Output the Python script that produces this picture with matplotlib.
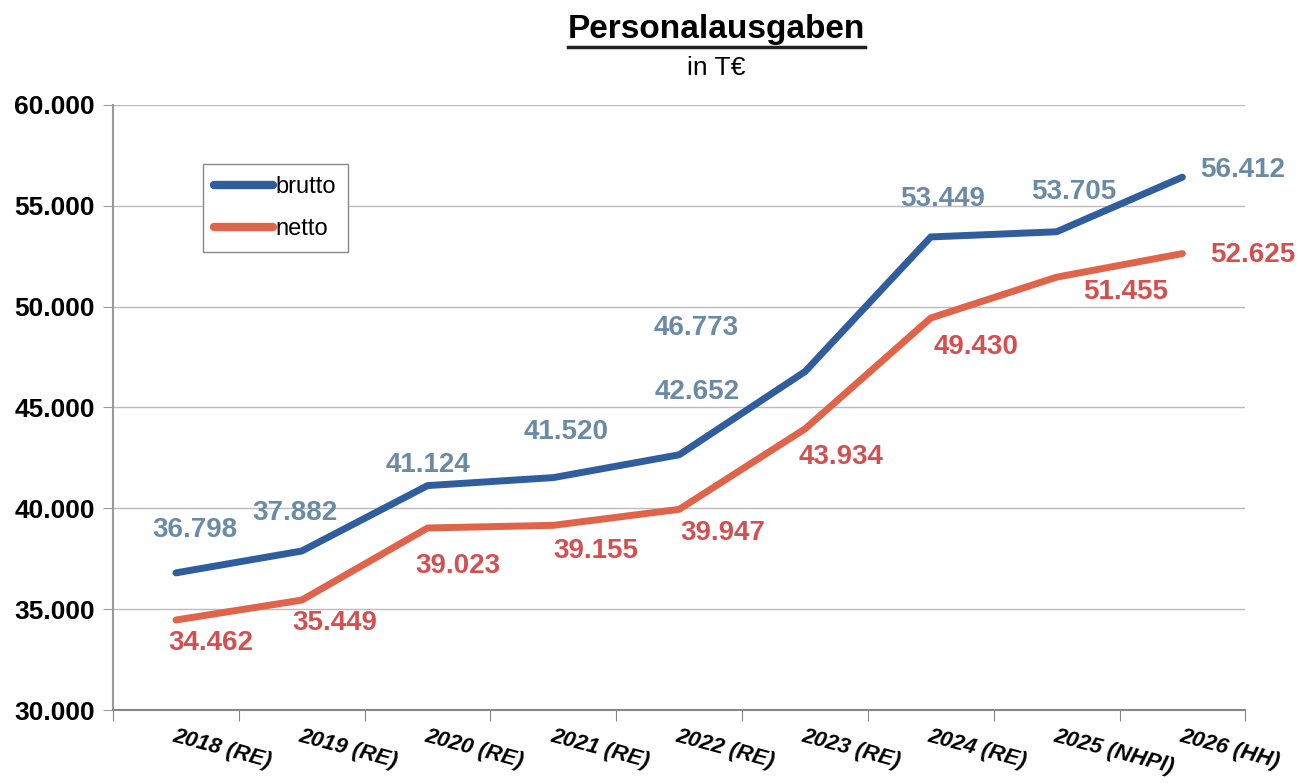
import numpy as np
import matplotlib.pyplot as plt
from matplotlib.lines import Line2D
from matplotlib.ticker import FuncFormatter

plt.rcParams['font.family'] = ['Liberation Sans', 'DejaVu Sans']

years = ['2018 (RE)', '2019 (RE)', '2020 (RE)', '2021 (RE)', '2022 (RE)',
         '2023 (RE)', '2024 (RE)', '2025 (NHPl)', '2026 (HH)']
brutto = [36798, 37882, 41124, 41520, 42652, 46773, 53449, 53705, 56412]
netto = [34462, 35449, 39023, 39155, 39947, 43934, 49430, 51455, 52625]

# label offsets in pixels (dx, dy) relative to the point
off_brutto = [(19, 43), (-7, 38), (0, 21), (13, 46), (18, 63), (-109, 44), (12, 38), (17, 40), (60, 7)]
off_netto = [(35, -23), (33, -23), (30, -38), (42, -26), (44, -24), (36, -28), (45, -29), (69, -15), (70, -1)]

c_blue = '#2f5d9e'
c_red = '#e0644a'
c_blue_lbl = '#6a8aa6'
c_red_lbl = '#d45050'

fig = plt.figure(figsize=(13.15, 7.83), dpi=100)
ax = fig.add_axes([0.086, 0.0932, 0.861, 0.773])

x = np.arange(len(years))
ax.plot(x, brutto, color=c_blue, lw=5, solid_capstyle='round', label='brutto', zorder=3)
ax.plot(x, netto, color=c_red, lw=5, solid_capstyle='round', label='netto', zorder=3)

fmt = lambda v: f'{v:,.0f}'.replace(',', '.')
for i in range(len(years)):
    dx, dy = off_brutto[i]
    ax.annotate(fmt(brutto[i]), (x[i], brutto[i]), xytext=(dx * 0.72, dy * 0.72),
                textcoords='offset points', ha='center', va='center',
                fontsize=20, fontweight='bold', color=c_blue_lbl)
    dx, dy = off_netto[i]
    ax.annotate(fmt(netto[i]), (x[i], netto[i]), xytext=(dx * 0.72, dy * 0.72),
                textcoords='offset points', ha='center', va='center',
                fontsize=20, fontweight='bold', color=c_red_lbl)

ax.set_xlim(-0.5, len(years) - 0.5)
ax.set_ylim(30000, 60000)
ax.set_yticks(np.arange(30000, 60001, 5000))
ax.yaxis.set_major_formatter(FuncFormatter(lambda v, p: fmt(v)))
ax.set_xticks(np.arange(-0.5, len(years), 1.0))
ax.set_xticklabels([])
ax.set_xticks(x, minor=True)
ax.set_xticklabels(years, minor=True, rotation=-15, ha='left', va='top',
                   fontsize=16, fontweight='bold', fontstyle='italic',
                   rotation_mode='anchor')
ax.tick_params(axis='x', which='minor', length=0, pad=11)
ax.tick_params(axis='x', which='major', length=8, color='#888888', direction='out')
ax.tick_params(axis='y', length=7, color='#999999', labelsize=19, pad=6)
for lbl in ax.get_yticklabels():
    lbl.set_fontweight('bold')

ax.grid(axis='y', color='#bbbbbb', lw=1)
ax.set_axisbelow(True)
for s in ['top', 'right']:
    ax.spines[s].set_visible(False)
ax.spines['left'].set_color('#999999')
ax.spines['bottom'].set_color('#888888')
ax.spines['left'].set_linewidth(1.5)
ax.spines['bottom'].set_linewidth(1.5)

leg = ax.legend(loc='upper left', bbox_to_anchor=(0.079, 0.902), fontsize=17,
                handlelength=2.5, handletextpad=0.1, fancybox=False,
                edgecolor='#888888', framealpha=1, borderpad=0.5, labelspacing=0.85,
                borderaxespad=0)
for h in leg.get_lines():
    h.set_linewidth(6)

title = fig.text(0.545, 0.962, 'Personalausgaben', ha='center', va='center',
                 fontsize=24, fontweight='bold')
fig.text(0.545, 0.913, 'in T€', ha='center', va='center', fontsize=19)

fig.canvas.draw()
bb = title.get_window_extent().transformed(fig.transFigure.inverted())
fig.add_artist(Line2D([bb.x0, bb.x1], [bb.y0 - 0.002, bb.y0 - 0.002],
                      transform=fig.transFigure, color='#222222', lw=2.5))

fig.savefig('out.png', dpi=100)
